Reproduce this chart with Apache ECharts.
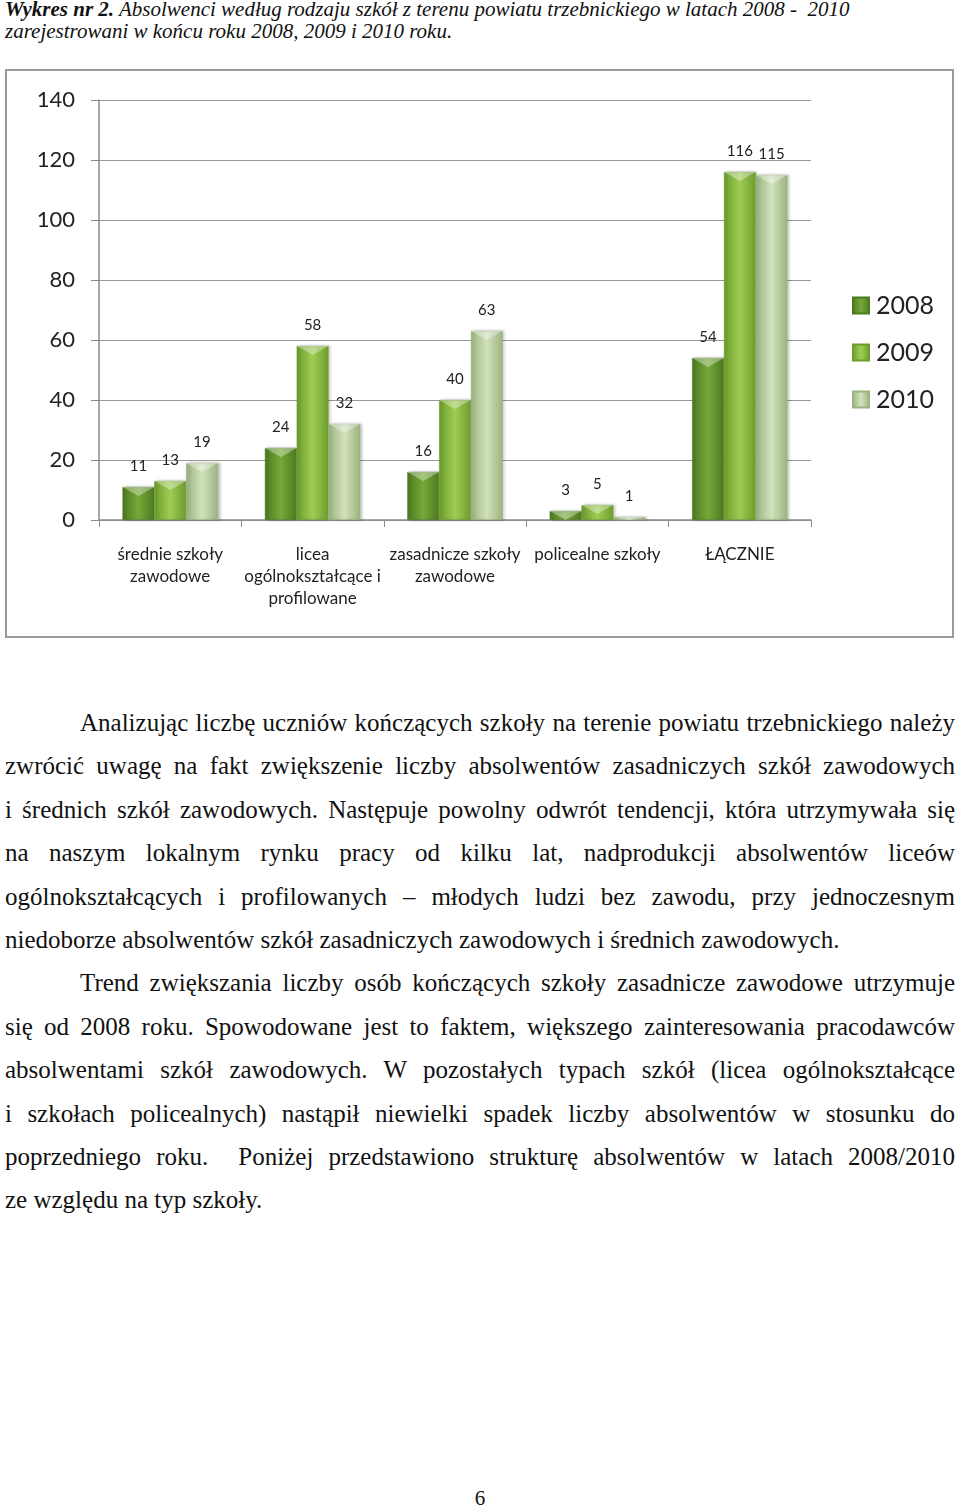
<!DOCTYPE html>
<html>
<head>
<meta charset="utf-8">
<script src="https://cdn.jsdelivr.net/npm/echarts@6/dist/echarts.min.js"></script>
<style>
  html, body { margin: 0; padding: 0; background: #fff; }
  body { width: 960px; height: 1509px; position: relative; overflow: hidden; font-family: "Liberation Serif", "Times New Roman", serif; color: #111; }
  .title { position: absolute; left: 5px; top: -2px; font-size: 21px; line-height: 22px; font-style: italic; white-space: nowrap; }
  #chart { position: absolute; left: 0; top: 0; width: 960px; height: 650px; }
  .text { position: absolute; left: 5px; top: 701px; width: 950px; font-size: 25px; line-height: 43.4px; }
  .text div { text-align: justify; text-align-last: justify; white-space: nowrap; }
  .text div.last { text-align-last: left; }
  .text div.ind { padding-left: 75px; }
  .page { position: absolute; left: 0; width: 960px; top: 1487px; text-align: center; font-size: 21px; line-height: 22px; }
</style>
</head>
<body>
<div class="title"><b>Wykres nr 2.</b> Absolwenci według rodzaju szkół z terenu powiatu trzebnickiego w latach 2008 -&nbsp; 2010<br>zarejestrowani w końcu roku 2008, 2009 i 2010 roku.</div>
<div id="chart"></div>
<div class="text">
  <div class="ind">Analizując liczbę uczniów kończących szkoły na terenie powiatu trzebnickiego należy</div>
  <div>zwrócić uwagę na fakt zwiększenie liczby absolwentów zasadniczych szkół zawodowych</div>
  <div>i średnich szkół zawodowych. Następuje powolny odwrót tendencji, która utrzymywała się</div>
  <div>na naszym lokalnym rynku pracy od kilku lat, nadprodukcji absolwentów liceów</div>
  <div>ogólnokształcących i profilowanych – młodych ludzi bez zawodu, przy jednoczesnym</div>
  <div class="last">niedoborze absolwentów szkół zasadniczych zawodowych i średnich zawodowych.</div>
  <div class="ind">Trend zwiększania liczby osób kończących szkoły zasadnicze zawodowe utrzymuje</div>
  <div>się od 2008 roku. Spowodowane jest to faktem, większego zainteresowania pracodawców</div>
  <div>absolwentami szkół zawodowych. W pozostałych typach szkół (licea ogólnokształcące</div>
  <div>i szkołach policealnych) nastąpił niewielki spadek liczby absolwentów w stosunku do</div>
  <div>poprzedniego roku.&nbsp; Poniżej przedstawiono strukturę absolwentów w latach 2008/2010</div>
  <div class="last">ze względu na typ szkoły.</div>
</div>
<div class="page">6</div>
<script>
// dane z wykresu
const categories = ['średnie szkoły\nzawodowe', 'licea\nogólnokształcące i\nprofilowane', 'zasadnicze szkoły\nzawodowe', 'policealne szkoły', 'ŁĄCZNIE'];
const years = ['2008', '2009', '2010'];
const values2008 = [11, 24, 16, 3, 54];
const values2009 = [13, 58, 40, 5, 116];
const values2010 = [19, 32, 63, 1, 115];

// kolory słupków: brzeg, środek
const barColors = [
  ['#4c7a20', '#76a83a'],
  ['#6c9d2c', '#a0cc55'],
  ['#9bb37f', '#d2e2bd']
];

function grad(c) {
  return new echarts.graphic.LinearGradient(0, 0, 1, 0, [
    { offset: 0, color: c[0] },
    { offset: 0.5, color: c[1] },
    { offset: 1, color: c[0] }
  ]);
}

let chart = echarts.init(document.getElementById('chart'));
let seriesData = [values2008, values2009, values2010];

let bars = years.map(function (y, i) {
  return {
    name: y,
    type: 'bar',
    data: seriesData[i],
    barGap: '0%',
    barCategoryGap: '33%',
    itemStyle: {
      color: grad(barColors[i]),
      borderColor: barColors[i][0],
      borderWidth: 0.5,
      shadowColor: 'rgba(0,0,0,0.25)',
      shadowBlur: 3,
      shadowOffsetX: 2
    },
    label: { show: true, position: 'top', distance: 13, fontSize: 15, color: '#222' }
  };
});

// jasne "ścięcie" na szczycie słupka
let bevels = years.map(function (y, i) {
  return {
    name: 'bevel' + y,
    type: 'pictorialBar',
    barGap: '0%',
    barCategoryGap: '33%',
    symbol: 'path://M0,0 L10,0 L5,7 Z',
    symbolPosition: 'end',
    z: 3,
    silent: true,
    itemStyle: { color: 'rgba(255,255,255,0.35)' },
    data: seriesData[i].map(function (v) {
      return { value: v, symbolSize: ['100%', Math.min(9, v * 3)] };
    })
  };
});

let option = {
  animation: false,
  textStyle: { fontFamily: 'Lato, "Open Sans", sans-serif' },
  graphic: [{
    type: 'rect',
    shape: { x: 6, y: 70, width: 947, height: 567 },
    style: { fill: 'none', stroke: '#9a9a9a', lineWidth: 2 },
    z: -1
  }],
  grid: { left: 99, top: 100, width: 712, height: 420 },
  legend: {
    orient: 'vertical',
    left: 847,
    top: 288,
    itemWidth: 16,
    itemHeight: 16,
    itemGap: 22,
    icon: 'rect',
    textStyle: { fontSize: 25, color: '#222', padding: [0, 0, 0, 2] },
    data: years
  },
  xAxis: {
    type: 'category',
    data: categories,
    axisLine: { lineStyle: { color: '#8a8a8a', width: 1.5 } },
    axisTick: { show: true, length: 7, lineStyle: { color: '#8a8a8a' } },
    axisLabel: { fontSize: 17, lineHeight: 22, color: '#222', margin: 24, interval: 0 }
  },
  yAxis: {
    type: 'value',
    min: 0,
    max: 140,
    interval: 20,
    axisLine: { show: true, lineStyle: { color: '#8a8a8a', width: 1.5 } },
    axisTick: { show: true, length: 8, lineStyle: { color: '#8a8a8a' } },
    axisLabel: { fontSize: 22, color: '#222', margin: 24 },
    splitLine: { lineStyle: { color: '#9a9a9a', width: 1.2 } }
  },
  series: bars.concat(bevels)
};
chart.setOption(option);
</script>
</body>
</html>
